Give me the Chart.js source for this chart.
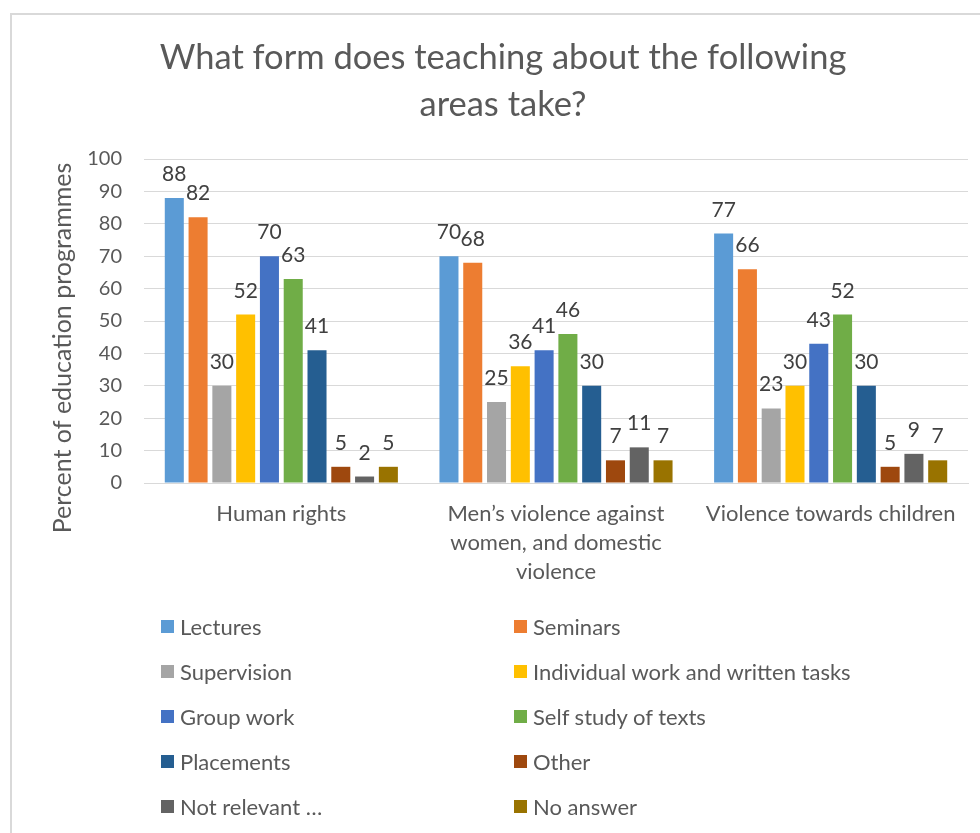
<!DOCTYPE html>
<html>
<head>
<meta charset="utf-8">
<script src="https://cdn.jsdelivr.net/npm/chart.js@4"></script>
<style>
  html, body { margin: 0; padding: 0; background: #fff; }
  #wrap { position: relative; width: 980px; height: 833px; overflow: hidden; }
  #legend { position: absolute; left: 0; top: 0; width: 980px; height: 833px; pointer-events: none;
            font-family: Lato, sans-serif; font-size: 22px; color: #595959; }
  .item { position: absolute; display: flex; align-items: center; height: 26px; white-space: nowrap; }
  .box { width: 13px; height: 13px; margin-right: 6px; }
</style>
</head>
<body>
<div id="wrap">
  <canvas id="formChart" width="980" height="833"></canvas>
  <div id="legend"></div>
</div>
<script>
const categories = [
    'Human rights',
    ['Men\u2019s violence against', 'women, and domestic', 'violence'],
    'Violence towards children'
];
const seriesNames = [
    'Lectures', 'Seminars', 'Supervision', 'Individual work and written tasks', 'Group work',
    'Self study of texts', 'Placements', 'Other', 'Not relevant \u2026', 'No answer'
];
const seriesColors = [
    '#5b9bd5', '#ed7d31', '#a5a5a5', '#ffc000', '#4472c4',
    '#70ad47', '#255e91', '#9e480e', '#636363', '#997300'
];

// percent of programmes, one value per area
const lectures      = [88, 70, 77];
const seminars      = [82, 68, 66];
const supervision   = [30, 25, 23];
const individual    = [52, 36, 30];
const groupWork     = [70, 41, 43];
const selfStudy     = [63, 46, 52];
const placements    = [41, 30, 30];
const other         = [5, 7, 5];
const notRelevant   = [2, 11, 9];
const noAnswer      = [5, 7, 7];
const yTicks = [0, 10, 20, 30, 40, 50, 60, 70, 80, 90, 100];

const seriesValues = [lectures, seminars, supervision, individual, groupWork,
                      selfStudy, placements, other, notRelevant, noAnswer];

const FONT = 'Lato, sans-serif';
const TEXT = '#595959';

const frame = {
    id: 'frame',
    beforeDraw(chart) {
        const ctx = chart.ctx;
        ctx.save();
        ctx.fillStyle = '#fff';
        ctx.fillRect(0, 0, chart.width, chart.height);
        ctx.strokeStyle = '#d9d9d9';
        ctx.lineWidth = 2;
        ctx.beginPath();
        ctx.moveTo(11, chart.height + 5);
        ctx.lineTo(11, 14);
        ctx.lineTo(chart.width + 5, 14);
        ctx.stroke();
        ctx.restore();
    }
};

const texts = {
    id: 'texts',
    afterDraw(chart) {
        const ctx = chart.ctx;
        ctx.save();
        ctx.fillStyle = TEXT;
        ctx.textAlign = 'center';
        ctx.textBaseline = 'alphabetic';
        ctx.font = '34.5px ' + FONT;
        ctx.fillText('What form does teaching about the following', 503, 69);
        ctx.fillText('areas take?', 503, 116);

        ctx.translate(71, 348);
        ctx.rotate(-Math.PI / 2);
        ctx.font = '25px ' + FONT;
        ctx.fillText('Percent of education programmes', 0, 0);
        ctx.restore();
    }
};

const valueLabels = {
    id: 'valueLabels',
    afterDatasetsDraw(chart) {
        const ctx = chart.ctx;
        ctx.save();
        ctx.fillStyle = '#404040';
        ctx.font = '21px ' + FONT;
        ctx.textAlign = 'center';
        ctx.textBaseline = 'alphabetic';
        chart.data.datasets.forEach((ds, i) => {
            chart.getDatasetMeta(i).data.forEach((bar, j) => {
                ctx.fillText(String(ds.data[j]), bar.x, bar.y - 17);
            });
        });
        ctx.restore();
    }
};

new Chart(document.getElementById('formChart'), {
    type: 'bar',
    data: {
        labels: categories,
        datasets: seriesNames.map((name, i) => ({
            label: name,
            data: seriesValues[i],
            backgroundColor: seriesColors[i],
            borderWidth: 0,
            categoryPercentage: 0.866,
            barPercentage: 0.8
        }))
    },
    options: {
        responsive: false,
        animation: false,
        layout: { padding: { left: 0, right: 12, top: 159, bottom: 240 } },
        plugins: {
            legend: { display: false },
            title: { display: false },
            tooltip: { enabled: false }
        },
        scales: {
            x: {
                grid: { display: false },
                border: { color: '#d9d9d9', width: 1 },
                ticks: {
                    color: TEXT,
                    font: { family: FONT, size: 22, lineHeight: 1.32 },
                    padding: 8,
                    maxRotation: 0,
                    autoSkip: false
                },
                afterFit: s => { s.height = 110; }
            },
            y: {
                min: 0,
                max: 100,
                afterBuildTicks: s => { s.ticks = yTicks.map(v => ({ value: v })); },
                grid: { color: '#d9d9d9', lineWidth: 1, drawTicks: false },
                border: { display: false },
                ticks: {
                    color: TEXT,
                    font: { family: FONT, size: 20 },
                    padding: 22
                },
                afterFit: s => { s.width = 144; }
            }
        }
    },
    plugins: [frame, texts, valueLabels]
});

// two-column legend underneath the plot
const legend = document.getElementById('legend');
seriesNames.forEach((name, i) => {
    const item = document.createElement('div');
    item.className = 'item';
    item.style.left = (i % 2 === 0 ? 161 : 514) + 'px';
    item.style.top = (626 + Math.floor(i / 2) * 45 - 13) + 'px';
    const box = document.createElement('span');
    box.className = 'box';
    box.style.background = seriesColors[i];
    item.appendChild(box);
    item.appendChild(document.createTextNode(name));
    legend.appendChild(item);
});
</script>
</body>
</html>
